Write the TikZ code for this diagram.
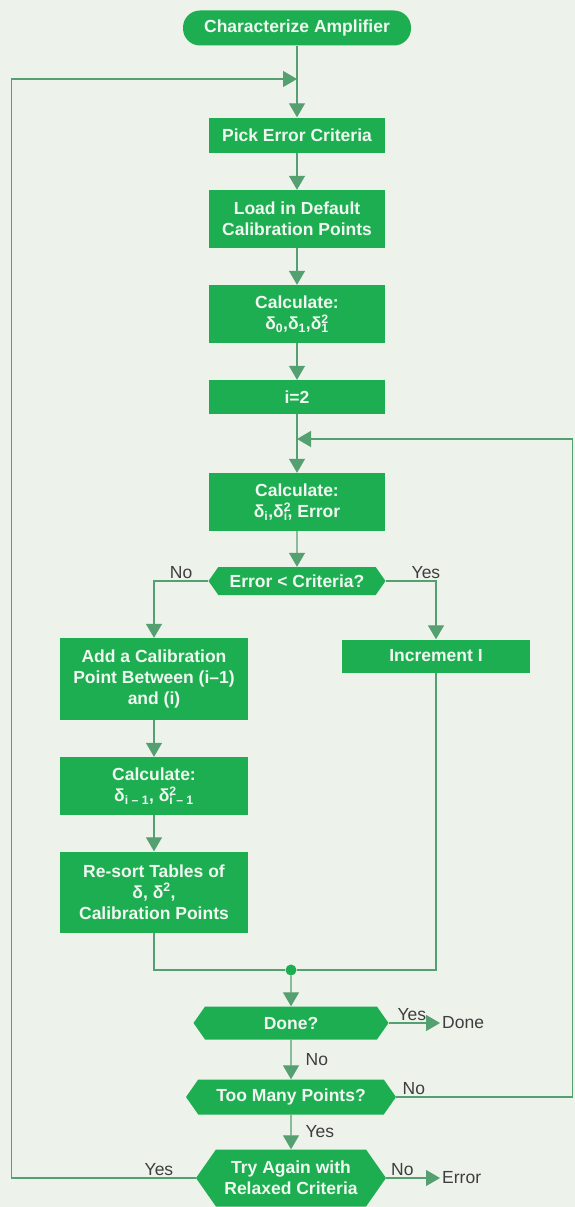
\documentclass[tikz,border=0pt]{standalone}
\usepackage{fontspec}
\setmainfont{Liberation Sans}
\usetikzlibrary{arrows.meta, shapes.symbols, positioning}
\definecolor{boxgreen}{RGB}{30, 174, 82}
\definecolor{linegreen}{RGB}{84, 160, 112}
\definecolor{papertint}{RGB}{237, 243, 234}
\definecolor{labelgray}{RGB}{62, 62, 62}
\definecolor{boxtext}{RGB}{240, 247, 240}
\newcommand{\dsubsup}[2]{\makebox[0pt][l]{\textsuperscript{#2}}\textsubscript{#1}}

\begin{document}
\begin{tikzpicture}[
    x=1pt, y=-1pt,
    stepbox/.style={fill=boxgreen, text=boxtext, font=\bfseries\fontsize{17.5}{21}\selectfont, align=center, inner sep=2pt, minimum width=176pt},
    widebox/.style={stepbox, minimum width=188pt},
    startbox/.style={stepbox, rounded corners=17pt, minimum width=228pt, minimum height=35pt},
    askbox/.style={stepbox, signal, signal to=west and east, signal pointer angle=110},
    dot/.style={circle, fill=boxgreen, minimum size=11pt, inner sep=0pt},
    note/.style={text=labelgray, font=\fontsize{17.5}{21}\selectfont, inner sep=2pt},
    arr/.style={-{Triangle[width=16pt,length=14pt]}, line width=1.3pt, draw=linegreen},
    link/.style={line width=1.3pt, draw=linegreen}
]
    \fill[papertint] (0,0) rectangle (575,1207);

    % main column
    \node[startbox] (start) at (297,28) {Characterize Amplifier};
    \node[stepbox, minimum height=35pt] (pick) at (297,135) {Pick Error Criteria};
    \node[stepbox, minimum height=58pt] (load) at (297,219) {Load in Default\\Calibration Points};
    \node[stepbox, minimum height=58pt] (calczero) at (297,314) {Calculate:\\δ\textsubscript{0},δ\textsubscript{1},δ\dsubsup{1}{2}};
    \node[stepbox, minimum height=34pt] (iset) at (297,397) {i=2};
    \node[stepbox, minimum height=58pt] (calci) at (297,502) {Calculate:\\δ\textsubscript{i},δ\dsubsup{i}{2}, Error};
    \node[askbox, minimum width=177pt, minimum height=28pt] (errq) at (297,581) {Error < Criteria?};

    % branches
    \node[widebox, minimum height=82pt] (addpt) at (154,679) {Add a Calibration\\Point Between (i–1)\\and (i)};
    \node[widebox, minimum height=33pt] (incr) at (436,656) {Increment I};
    \node[widebox, minimum height=58pt] (calcprev) at (154,786) {Calculate:\\δ\textsubscript{i – 1}, δ\dsubsup{i – 1}{2}};
    \node[widebox, minimum height=81pt] (resort) at (154,892) {Re-sort Tables of\\δ, δ\textsuperscript{2},\\Calibration Points};

    % end checks
    \node[dot] (merge) at (291,970) {};
    \node[askbox, minimum width=195pt, minimum height=33pt] (doneq) at (291,1023) {Done?};
    \node[askbox, minimum width=210pt, minimum height=35pt] (tooq) at (291,1097) {Too Many Points?};
    \node[askbox, minimum width=190pt, minimum height=57pt] (tryq) at (291,1178) {Try Again with\\Relaxed Criteria};
    \node[note, anchor=west] (donetxt) at (440,1023) {Done};
    \node[note, anchor=west] (errtxt) at (440,1178) {Error};

    \coordinate (topjoin) at (297,79);
    \coordinate (midjoin) at (297,439);

    \draw[arr] (start) -- (pick);
    \draw[arr] (pick) -- (load);
    \draw[arr] (load) -- (calczero);
    \draw[arr] (calczero) -- (iset);
    \draw[arr] (iset) -- (calci);
    \draw[arr] (calci) -- (errq);
    \draw[arr] (errq.west) -| node[note, pos=0.25, above] {No} (addpt.north);
    \draw[arr] (errq.east) -| node[note, pos=0.4, above] {Yes} (incr.north);
    \draw[arr] (addpt) -- (calcprev);
    \draw[arr] (calcprev) -- (resort);
    \draw[link] (resort) |- (merge);
    \draw[link] (incr) |- (merge);
    \draw[arr] (merge) -- (doneq);
    \draw[arr] (doneq.east) -- node[note, pos=0.45, above] {Yes} (donetxt.west);
    \draw[arr] (doneq) -- node[note, right=12pt] {No} (tooq);
    \draw[arr] (tooq.east) -- ++(176,0) node[note, pos=0.1, above] {No} |- (midjoin);
    \draw[arr] (tooq) -- node[note, right=12pt] {Yes} (tryq);
    \draw[arr] (tryq.east) -- node[note, pos=0.3, above] {No} (errtxt.west);
    \draw[arr] (tryq.west) -- ++(-184,0) node[note, pos=0.2, above] {Yes} |- (topjoin);
\end{tikzpicture}
\end{document}
